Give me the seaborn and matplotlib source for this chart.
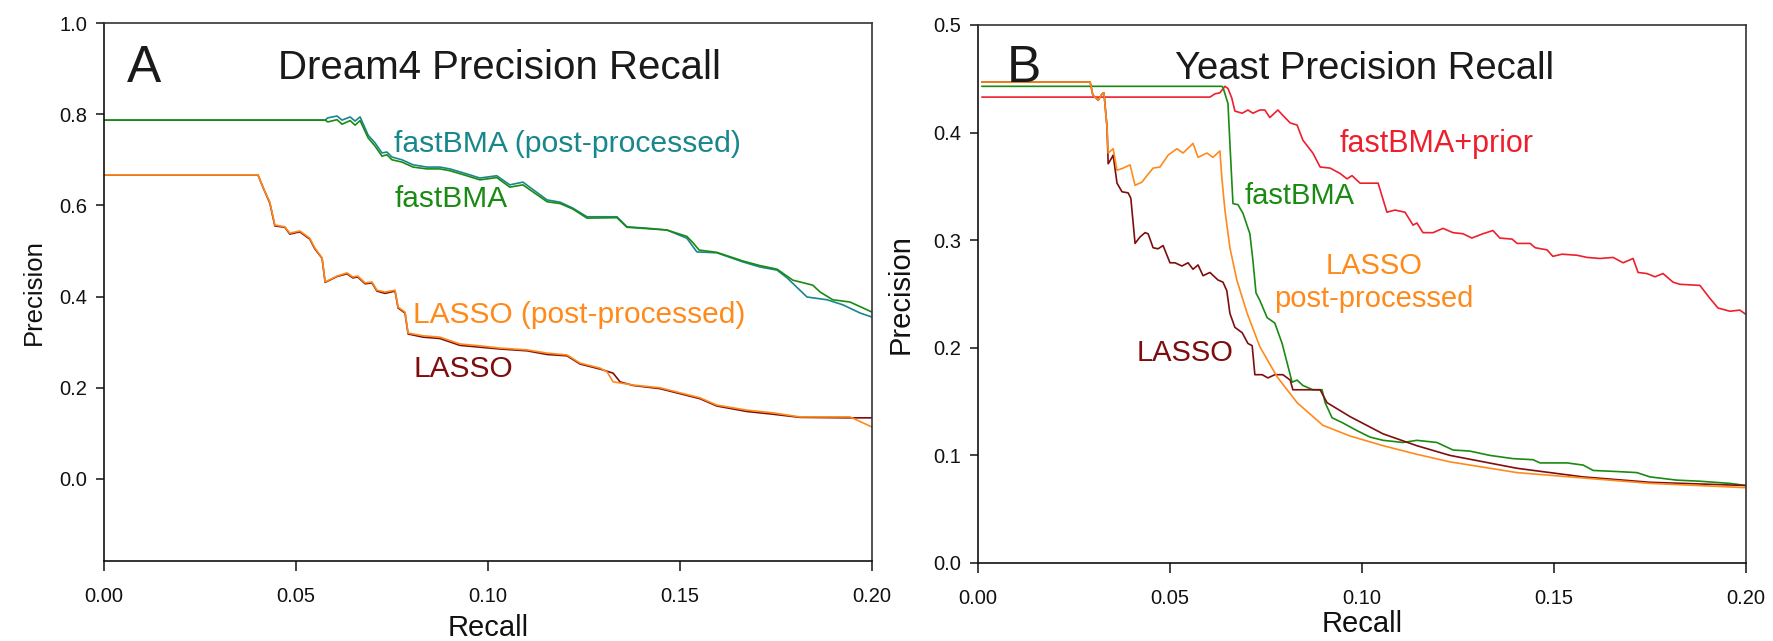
import matplotlib
matplotlib.use("Agg")
import matplotlib.pyplot as plt
import seaborn as sns

# ---- Dream4 (panel A) ----
dream_teal_x = [0, 0.0576, 0.0583, 0.0607, 0.0620, 0.0641, 0.0654, 0.0667, 0.0688, 0.0706,
                0.0724, 0.0737, 0.0750, 0.0776, 0.0805, 0.0841, 0.0875, 0.0901, 0.0945, 0.0979,
                0.1023, 0.1057, 0.1091, 0.1154, 0.1188, 0.1221, 0.1258, 0.1336, 0.1362, 0.1414,
                0.1466, 0.1518, 0.1544, 0.1596, 0.1664, 0.1708, 0.1753, 0.1779, 0.1831, 0.1883,
                0.1924, 0.1969, 0.2000]
dream_teal_y = [0.787, 0.787, 0.792, 0.796, 0.787, 0.794, 0.785, 0.794, 0.754, 0.737,
                0.715, 0.717, 0.706, 0.700, 0.689, 0.684, 0.684, 0.680, 0.669, 0.660,
                0.665, 0.645, 0.651, 0.612, 0.607, 0.594, 0.575, 0.575, 0.553, 0.550,
                0.546, 0.528, 0.498, 0.496, 0.476, 0.465, 0.458, 0.441, 0.399, 0.393,
                0.382, 0.364, 0.355]

dream_green_x = [0, 0.0576, 0.0583, 0.0607, 0.0620, 0.0641, 0.0654, 0.0667, 0.0688, 0.0706,
                 0.0724, 0.0737, 0.0750, 0.0776, 0.0805, 0.0841, 0.0875, 0.0901, 0.0945, 0.0979,
                 0.1023, 0.1057, 0.1091, 0.1154, 0.1188, 0.1221, 0.1258, 0.1336, 0.1362, 0.1414,
                 0.1466, 0.1518, 0.1534, 0.1550, 0.1596, 0.1664, 0.1708, 0.1753, 0.1794, 0.1846,
                 0.1865, 0.1898, 0.1943, 0.1977, 0.2000]
dream_green_y = [0.787, 0.787, 0.783, 0.788, 0.778, 0.786, 0.776, 0.786, 0.748, 0.730,
                 0.708, 0.711, 0.700, 0.695, 0.684, 0.680, 0.680, 0.676, 0.665, 0.656,
                 0.661, 0.640, 0.645, 0.608, 0.604, 0.592, 0.572, 0.573, 0.552, 0.549,
                 0.546, 0.532, 0.518, 0.502, 0.497, 0.478, 0.468, 0.460, 0.436, 0.425,
                 0.410, 0.393, 0.388, 0.375, 0.366]

dream_orange_x = [0, 0.0401, 0.0414, 0.0432, 0.0445, 0.0471, 0.0484, 0.0510, 0.0536, 0.0549,
                  0.0568, 0.0576, 0.0607, 0.0633, 0.0648, 0.0661, 0.0680, 0.0698, 0.0711, 0.0732,
                  0.0758, 0.0766, 0.0784, 0.0792, 0.0831, 0.0875, 0.0927, 0.0979, 0.1031, 0.1102,
                  0.1154, 0.1206, 0.1240, 0.1292, 0.1310, 0.1326, 0.1378, 0.1448, 0.1500, 0.1552,
                  0.1596, 0.1674, 0.1742, 0.1813, 0.1943, 0.2000]
dream_orange_y = [0.667, 0.667, 0.640, 0.607, 0.557, 0.553, 0.539, 0.544, 0.528, 0.507,
                  0.485, 0.432, 0.445, 0.452, 0.443, 0.445, 0.430, 0.432, 0.414, 0.410,
                  0.414, 0.377, 0.366, 0.320, 0.314, 0.311, 0.296, 0.292, 0.287, 0.283,
                  0.276, 0.272, 0.254, 0.243, 0.235, 0.213, 0.206, 0.200, 0.189, 0.178,
                  0.162, 0.151, 0.145, 0.136, 0.136, 0.114]

dream_darkred_x = [0, 0.0401, 0.0414, 0.0432, 0.0445, 0.0471, 0.0484, 0.0510, 0.0536, 0.0549,
                   0.0568, 0.0576, 0.0607, 0.0633, 0.0648, 0.0661, 0.0680, 0.0698, 0.0711, 0.0732,
                   0.0758, 0.0766, 0.0784, 0.0792, 0.0831, 0.0875, 0.0927, 0.0979, 0.1031, 0.1102,
                   0.1154, 0.1206, 0.1240, 0.1292, 0.1326, 0.1344, 0.1378, 0.1448, 0.1500, 0.1552,
                   0.1596, 0.1674, 0.1742, 0.1813, 0.1943, 0.2000]
dream_darkred_y = [0.667, 0.667, 0.640, 0.605, 0.555, 0.552, 0.537, 0.542, 0.526, 0.505,
                   0.484, 0.431, 0.444, 0.450, 0.441, 0.443, 0.428, 0.430, 0.412, 0.407,
                   0.412, 0.375, 0.364, 0.318, 0.311, 0.308, 0.293, 0.289, 0.285, 0.281,
                   0.273, 0.270, 0.252, 0.241, 0.232, 0.213, 0.205, 0.198, 0.187, 0.176,
                   0.160, 0.148, 0.142, 0.135, 0.134, 0.134]

# ---- Yeast (panel B) ----
yeast_orange_x = [0.001, 0.0292, 0.0299, 0.0313, 0.0323, 0.0328, 0.0336, 0.0339, 0.0352, 0.0362,
                  0.0378, 0.0396, 0.0409, 0.0427, 0.0440, 0.0456, 0.0474, 0.0495, 0.0518, 0.0534,
                  0.0560, 0.0573, 0.0596, 0.0612, 0.0630, 0.0635, 0.0643, 0.0656, 0.0674, 0.0701,
                  0.0734, 0.0779, 0.0831, 0.0898, 0.0969, 0.1055, 0.1143, 0.1229, 0.1404, 0.1576,
                  0.1750, 0.2000]
yeast_orange_y = [0.447, 0.447, 0.435, 0.430, 0.436, 0.437, 0.405, 0.381, 0.385, 0.365,
                  0.367, 0.370, 0.351, 0.354, 0.360, 0.367, 0.368, 0.379, 0.385, 0.381,
                  0.390, 0.377, 0.381, 0.377, 0.383, 0.358, 0.328, 0.293, 0.263, 0.232,
                  0.201, 0.173, 0.149, 0.128, 0.118, 0.109, 0.101, 0.094, 0.084, 0.079,
                  0.074, 0.070]

yeast_darkred_x = [0.001, 0.0292, 0.0299, 0.0313, 0.0323, 0.0328, 0.0336, 0.0339, 0.0349, 0.0352,
                   0.0362, 0.0375, 0.0391, 0.0398, 0.0409, 0.0422, 0.0435, 0.0443, 0.0456, 0.0469,
                   0.0482, 0.0500, 0.0513, 0.0531, 0.0547, 0.0560, 0.0573, 0.0586, 0.0604, 0.0625,
                   0.0638, 0.0648, 0.0656, 0.0669, 0.0688, 0.0703, 0.0714, 0.0721, 0.0740, 0.0755,
                   0.0773, 0.0794, 0.0813, 0.0820, 0.0839, 0.0891, 0.0909, 0.0969, 0.1055, 0.1143,
                   0.1229, 0.1404, 0.1576, 0.1750, 0.2000]
yeast_darkred_y = [0.447, 0.447, 0.435, 0.430, 0.436, 0.437, 0.405, 0.371, 0.377, 0.379,
                   0.353, 0.345, 0.344, 0.339, 0.297, 0.303, 0.307, 0.306, 0.293, 0.292,
                   0.295, 0.279, 0.279, 0.276, 0.279, 0.273, 0.277, 0.267, 0.270, 0.263,
                   0.261, 0.253, 0.232, 0.219, 0.214, 0.204, 0.202, 0.175, 0.175, 0.172,
                   0.175, 0.175, 0.170, 0.161, 0.161, 0.161, 0.149, 0.136, 0.120, 0.109,
                   0.100, 0.088, 0.080, 0.075, 0.072]

yeast_green_x = [0.001, 0.0635, 0.0638, 0.0651, 0.0656, 0.0664, 0.0677, 0.0690, 0.0708, 0.0716,
                 0.0724, 0.0734, 0.0753, 0.0773, 0.0792, 0.0805, 0.0818, 0.0831, 0.0846, 0.0872,
                 0.0896, 0.0904, 0.0922, 0.0951, 0.0987, 0.1021, 0.1055, 0.1107, 0.1143, 0.1195,
                 0.1237, 0.1281, 0.1333, 0.1393, 0.1445, 0.1464, 0.1534, 0.1576, 0.1602, 0.1664,
                 0.1716, 0.1750, 0.1820, 0.1880, 0.1958, 0.2000]
yeast_green_y = [0.443, 0.443, 0.442, 0.427, 0.390, 0.334, 0.333, 0.325, 0.306, 0.281,
                 0.251, 0.244, 0.228, 0.223, 0.204, 0.186, 0.168, 0.170, 0.165, 0.161,
                 0.161, 0.149, 0.135, 0.130, 0.123, 0.117, 0.114, 0.112, 0.114, 0.112,
                 0.105, 0.104, 0.100, 0.097, 0.096, 0.093, 0.093, 0.091, 0.086, 0.085,
                 0.084, 0.080, 0.077, 0.076, 0.074, 0.072]

yeast_red_x = [0.001, 0.0604, 0.0617, 0.0630, 0.0643, 0.0651, 0.0661, 0.0669, 0.0688, 0.0703,
               0.0716, 0.0734, 0.0747, 0.0760, 0.0781, 0.0794, 0.0813, 0.0831, 0.0846, 0.0872,
               0.0891, 0.0917, 0.0943, 0.0961, 0.0974, 0.0995, 0.1042, 0.1065, 0.1086, 0.1112,
               0.1133, 0.1143, 0.1159, 0.1185, 0.1211, 0.1237, 0.1263, 0.1286, 0.1315, 0.1341,
               0.1359, 0.1391, 0.1404, 0.1438, 0.1451, 0.1482, 0.1497, 0.1521, 0.1560, 0.1586,
               0.1620, 0.1654, 0.1680, 0.1706, 0.1719, 0.1742, 0.1763, 0.1784, 0.1810, 0.1828,
               0.1880, 0.1906, 0.1927, 0.1958, 0.1984, 0.2000]
yeast_red_y = [0.433, 0.433, 0.436, 0.437, 0.443, 0.441, 0.432, 0.420, 0.418, 0.421,
               0.418, 0.421, 0.421, 0.414, 0.421, 0.416, 0.409, 0.407, 0.393, 0.381,
               0.368, 0.367, 0.362, 0.357, 0.360, 0.353, 0.353, 0.326, 0.328, 0.326,
               0.314, 0.316, 0.307, 0.307, 0.311, 0.307, 0.306, 0.302, 0.306, 0.309,
               0.302, 0.301, 0.297, 0.297, 0.293, 0.291, 0.285, 0.287, 0.286, 0.284,
               0.283, 0.284, 0.279, 0.283, 0.270, 0.269, 0.266, 0.269, 0.261, 0.259,
               0.258, 0.246, 0.237, 0.234, 0.235, 0.231]

TEAL = "#17878C"
GREEN = "#1A8A12"
ORANGE = "#FF8A1C"
DARKRED = "#7E0E0E"
RED = "#EE1F2D"

sns.set_style("ticks")
plt.rcParams["font.family"] = ["Liberation Sans", "DejaVu Sans"]

fig = plt.figure(figsize=(17.74, 6.41), dpi=100)
ax1 = fig.add_axes([0.0586, 0.1248, 0.4329, 0.8393])
ax2 = fig.add_axes([0.5513, 0.1217, 0.4329, 0.8393])

lw = 1.2
for xs, ys, c in [(dream_teal_x, dream_teal_y, TEAL),
                  (dream_green_x, dream_green_y, GREEN),
                  (dream_darkred_x, dream_darkred_y, DARKRED),
                  (dream_orange_x, dream_orange_y, ORANGE)]:
    sns.lineplot(x=xs, y=ys, ax=ax1, color=c, lw=lw, estimator=None, sort=False)

for xs, ys, c in [(yeast_red_x, yeast_red_y, RED),
                  (yeast_green_x, yeast_green_y, GREEN),
                  (yeast_darkred_x, yeast_darkred_y, DARKRED),
                  (yeast_orange_x, yeast_orange_y, ORANGE)]:
    sns.lineplot(x=xs, y=ys, ax=ax2, color=c, lw=lw, estimator=None, sort=False)

# axes setup
ax1.set_xlim(0, 0.2)
ax1.set_ylim(-0.18, 1.0)
ax1.set_yticks([0.0, 0.2, 0.4, 0.6, 0.8, 1.0])
ax1.set_yticklabels(["0.0", "0.2", "0.4", "0.6", "0.8", "1.0"])
ax2.set_xlim(0, 0.2)
ax2.set_ylim(0, 0.5)
ax2.set_yticks([0.0, 0.1, 0.2, 0.3, 0.4, 0.5])
ax2.set_yticklabels(["0.0", "0.1", "0.2", "0.3", "0.4", "0.5"])

for ax in (ax1, ax2):
    ax.set_xticks([0.0, 0.05, 0.10, 0.15, 0.20])
    ax.set_xticklabels(["0.00", "0.05", "0.10", "0.15", "0.20"])
    ax.tick_params(axis="x", length=7, width=1.1, pad=12, labelsize=14.5, colors="#111111")
    ax.tick_params(axis="y", length=6, width=1.1, pad=6, labelsize=14.5, colors="#111111")
    for side in ["left", "bottom"]:
        ax.spines[side].set_color("#111111")
        ax.spines[side].set_linewidth(1.2)
    for side in ["top", "right"]:
        ax.spines[side].set_visible(True)
        ax.spines[side].set_color("#333333")
        ax.spines[side].set_linewidth(1.2)
    ax.set_xlabel("Recall", fontsize=21, color="#111111")

ax1.set_ylabel("Precision", fontsize=18.5, color="#111111")
ax2.set_ylabel("Precision", fontsize=21, color="#111111")
ax1.yaxis.set_label_coords(-0.075, 0.5)
ax1.xaxis.set_label_coords(0.5, -0.098)
ax2.yaxis.set_label_coords(-0.082, 0.5)
ax2.xaxis.set_label_coords(0.5, -0.088)

# panel A texts
ax1.text(0.006, 0.871, "A", fontsize=37, color="#1a1a1a", ha="left", va="baseline")
ax1.text(0.0453, 0.877, "Dream4 Precision Recall", fontsize=29, color="#1a1a1a",
         ha="left", va="baseline")
ax1.text(0.0755, 0.717, "fastBMA (post-processed)", fontsize=21.7, color=TEAL,
         ha="left", va="baseline")
ax1.text(0.0758, 0.596, "fastBMA", fontsize=21.5, color=GREEN, ha="left", va="baseline")
ax1.text(0.0805, 0.342, "LASSO (post-processed)", fontsize=21.5, color=ORANGE,
         ha="left", va="baseline")
ax1.text(0.0805, 0.224, "LASSO", fontsize=21.5, color=DARKRED, ha="left", va="baseline")

# panel B texts
ax2.text(0.0076, 0.4466, "B", fontsize=37, color="#1a1a1a", ha="left", va="baseline")
ax2.text(0.0513, 0.450, "Yeast Precision Recall", fontsize=27.5, color="#1a1a1a",
         ha="left", va="baseline")
ax2.text(0.0943, 0.382, "fastBMA+prior", fontsize=22, color=RED, ha="left", va="baseline")
ax2.text(0.0695, 0.334, "fastBMA", fontsize=21, color=GREEN, ha="left", va="baseline")
ax2.text(0.1031, 0.269, "LASSO", fontsize=21, color=ORANGE, ha="center", va="baseline")
ax2.text(0.1031, 0.238, "post-processed", fontsize=21, color=ORANGE, ha="center", va="baseline")
ax2.text(0.0414, 0.1876, "LASSO", fontsize=21, color=DARKRED, ha="left", va="baseline")

fig.savefig("out.png", dpi=100)
